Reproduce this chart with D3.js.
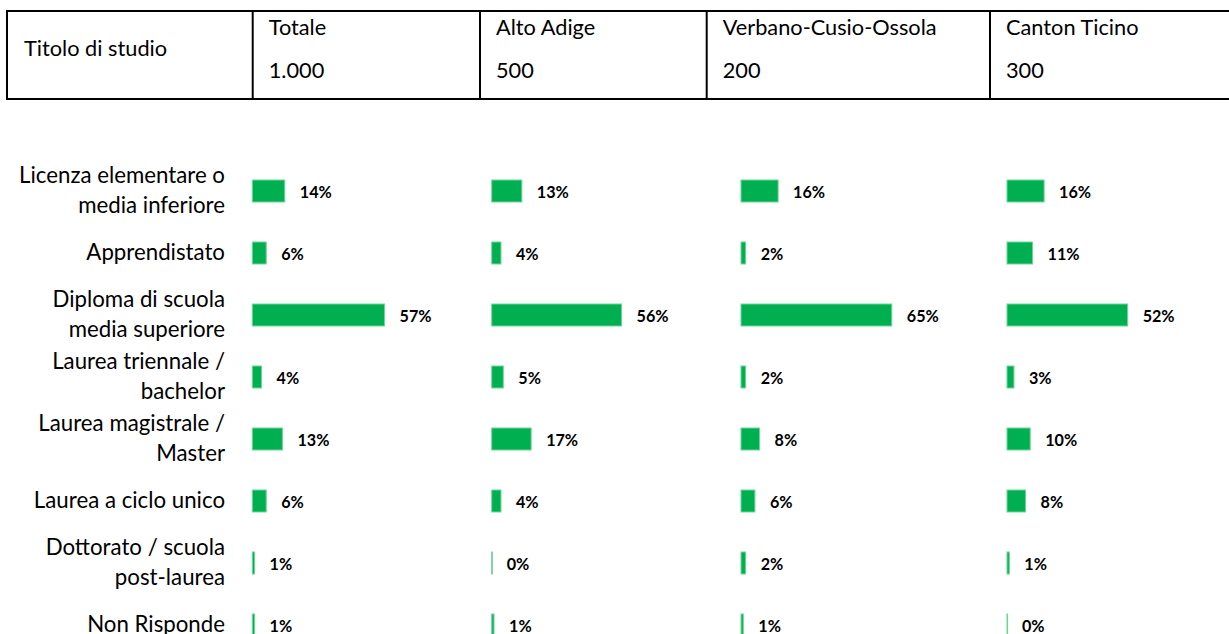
<!DOCTYPE html>
<html>
<head>
<meta charset="utf-8">
<script src="https://cdn.jsdelivr.net/npm/d3@7"></script>
<style>
  html, body { margin: 0; padding: 0; background: #ffffff; }
  svg { display: block; }
</style>
</head>
<body>
<script>
// ---------- DATA ----------
const headerTitle = "Titolo di studio";
const groups = ["Totale", "Alto Adige", "Verbano-Cusio-Ossola", "Canton Ticino"];
const sampleSizes = ["1.000", "500", "200", "300"];
const categories = [
  "Licenza elementare o\nmedia inferiore",
  "Apprendistato",
  "Diploma di scuola\nmedia superiore",
  "Laurea triennale /\nbachelor",
  "Laurea magistrale /\nMaster",
  "Laurea a ciclo unico",
  "Dottorato / scuola\npost-laurea",
  "Non Risponde"
];
const totale       = [14, 6, 57, 4, 13, 6, 1, 1];
const altoAdige    = [13, 4, 56, 5, 17, 4, 0, 1];
const verbano      = [16, 2, 65, 2, 8, 6, 2, 1];
const cantonTicino = [16, 11, 52, 3, 10, 8, 1, 0];
const seriesValues = [totale, altoAdige, verbano, cantonTicino];

// ---------- LAYOUT ----------
const W = 1229, H = 634;
const FONT = "Lato, 'Open Sans', sans-serif";
const panelStarts = [252.3, 491.7, 741, 1007];
const pxPerHundred = 232;
const headerCols = [252.7, 480, 706.7, 990];
const headerTop = 11, headerBottom = 99, headerLeft = 7;
const barFill = "#00B050", barEdge = "#6fd59a";

const svg = d3.select("body").append("svg")
  .attr("width", W).attr("height", H)
  .attr("viewBox", `0 0 ${W} ${H}`);

function fitSize(text, weight, target) {
  const t = svg.append("text")
    .attr("font-family", FONT).attr("font-weight", weight)
    .attr("font-size", 100).text(text);
  const w = t.node().getComputedTextLength();
  t.remove();
  return 100 * target / w;
}
const headerSize = fitSize("Verbano-Cusio-Ossola", 400, 214);
const catSize = fitSize("Licenza elementare o", 400, 206);
const pctSize = fitSize("57%", 700, 32);

// ---------- HEADER TABLE ----------
const hdr = svg.append("g");
[headerTop, headerBottom].forEach(yy => {
  hdr.append("line").attr("x1", headerLeft - 1).attr("x2", W)
    .attr("y1", yy).attr("y2", yy)
    .attr("stroke", "#000").attr("stroke-width", 2);
});
hdr.append("line").attr("x1", headerLeft).attr("x2", headerLeft)
  .attr("y1", headerTop).attr("y2", headerBottom)
  .attr("stroke", "#000").attr("stroke-width", 2);
hdr.selectAll("line.col").data(headerCols).join("line")
  .attr("class", "col")
  .attr("x1", d => d).attr("x2", d => d)
  .attr("y1", headerTop).attr("y2", headerBottom)
  .attr("stroke", "#000").attr("stroke-width", 2);

hdr.append("text").attr("x", 24).attr("y", 56)
  .attr("font-family", FONT).attr("font-size", headerSize)
  .attr("fill", "#000").text(headerTitle);
hdr.selectAll("text.grp").data(groups).join("text")
  .attr("class", "grp")
  .attr("x", (d, i) => headerCols[i] + 16).attr("y", 34.5)
  .attr("font-family", FONT).attr("font-size", headerSize)
  .attr("fill", "#000").text(d => d);
hdr.selectAll("text.n").data(sampleSizes).join("text")
  .attr("class", "n")
  .attr("x", (d, i) => headerCols[i] + 16).attr("y", 77.5)
  .attr("font-family", FONT).attr("font-size", headerSize)
  .attr("fill", "#000").text(d => d);

// ---------- CATEGORY SCALE ----------
const y = d3.scaleBand().domain(categories)
  .range([160, 160 + 62 * categories.length])
  .paddingInner(40 / 62).paddingOuter(20 / 62);
const lineGap = 30;

const catG = svg.append("g");
catG.selectAll("text").data(categories).join("text")
  .attr("text-anchor", "end")
  .attr("font-family", FONT).attr("font-size", catSize)
  .attr("fill", "#000")
  .each(function (d) {
    const lines = d.split("\n");
    const cy = y(d) + y.bandwidth() / 2;
    const n = lines.length;
    d3.select(this).selectAll("tspan").data(lines).join("tspan")
      .attr("x", 225)
      .attr("y", (l, i) => cy + (i - (n - 1) / 2) * lineGap)
      .attr("dy", "0.3em")
      .text(l => l);
  });

// ---------- PANELS ----------
groups.forEach((g, gi) => {
  const x = d3.scaleLinear().domain([0, 100])
    .range([panelStarts[gi], panelStarts[gi] + pxPerHundred]);
  const vals = seriesValues[gi];
  const pg = svg.append("g");
  pg.selectAll("rect").data(categories).join("rect")
    .attr("x", x(0))
    .attr("y", d => y(d))
    .attr("width", (d, i) => Math.max(0.6, x(vals[i]) - x(0)))
    .attr("height", y.bandwidth())
    .attr("fill", barFill)
    .attr("stroke", barEdge).attr("stroke-width", 1);
  pg.selectAll("text").data(categories).join("text")
    .attr("x", (d, i) => x(vals[i]) + 15)
    .attr("y", d => y(d) + y.bandwidth() / 2)
    .attr("dy", "0.42em")
    .attr("font-family", FONT).attr("font-weight", 700)
    .attr("font-size", pctSize)
    .attr("fill", "#000")
    .text((d, i) => vals[i] + "%");
});
</script>
</body>
</html>
